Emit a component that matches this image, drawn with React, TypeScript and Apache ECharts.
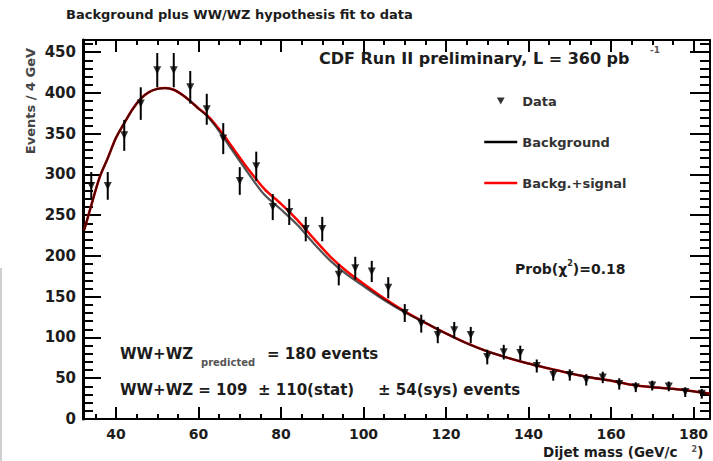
import React, { useEffect, useRef } from "react";
import * as echarts from "echarts";

// ---- Data ----
const dataMass = [34, 38, 42, 46, 50, 54, 58, 62, 66, 70, 74, 78, 82, 86, 90, 94, 98, 102, 106, 110, 114, 118, 122, 126, 130, 134, 138, 142, 146, 150, 154, 158, 162, 166, 170, 174, 178, 182];
const dataEvents = [286, 286, 348, 387, 428, 428, 407, 380, 344, 292, 310, 260, 254, 233, 233, 177, 185, 181, 161, 130, 117, 103, 109, 103, 76, 82, 81, 65, 54, 54, 48, 51, 43, 39, 41, 40, 33, 31];
const dataErrors = [17, 17, 19, 20, 21, 21, 20, 19, 19, 17, 18, 16, 16, 15, 15, 13, 14, 13, 13, 11, 11, 10, 10, 10, 9, 9, 9, 8, 7, 7, 7, 7, 7, 6, 6, 6, 6, 6];

const curveMass = [32.3, 34, 36, 38, 40, 42, 44, 46, 48, 50, 52, 54, 56, 58, 60, 62, 64, 66, 68, 72, 76, 80, 84, 88, 92, 96, 100, 105, 110, 115, 120, 125, 130, 135, 140, 145, 150, 155, 160, 165, 170, 175, 180, 184];
const backgroundFit = [232, 262, 296, 320, 345, 363, 380, 393, 401, 405, 406, 404, 398, 390, 381, 372, 360, 346, 331, 302, 275, 257, 238, 215, 194, 177, 163, 146, 131, 118, 105, 93, 83, 75, 68, 62, 56, 51, 47, 42, 39, 37, 34, 31];
const signalFit = [232, 262, 296, 320, 345, 363, 380, 393, 401, 405, 406, 404, 398, 390, 381, 373, 362, 349, 335, 307, 282, 264, 244, 221, 199, 181, 166, 148, 132, 118, 105, 93, 83, 75, 68, 62, 56, 51, 47, 42, 39, 37, 34, 31];

const xMajorTicks = [40, 60, 80, 100, 120, 140, 160, 180];
const xMinorTicks = [35, 45, 50, 55, 65, 70, 75, 85, 90, 95, 105, 110, 115, 125, 130, 135, 145, 150, 155, 165, 170, 175];
const yMajorTicks = [0, 50, 100, 150, 200, 250, 300, 350, 400, 450];
const yMinorTicks = [10, 20, 30, 40, 60, 70, 80, 90, 110, 120, 130, 140, 160, 170, 180, 190, 210, 220, 230, 240, 260, 270, 280, 290, 310, 320, 330, 340, 360, 370, 380, 390, 410, 420, 430, 440, 460];

const X_MIN = 32;
const X_MAX = 184;
const Y_MIN = 0;
const Y_MAX = 465;

const FONT = "DejaVu Sans";
const TXT = "#1c1c1c";

function makeAxis(
  kind: "x" | "y",
  position: string,
  ticks: number[],
  tickLen: number,
  showLine: boolean,
  lineWidth: number,
  labels: boolean
) {
  return {
    type: "value",
    position,
    min: kind === "x" ? X_MIN : Y_MIN,
    max: kind === "x" ? X_MAX : Y_MAX,
    splitLine: { show: false },
    axisLine: { show: showLine, onZero: false, lineStyle: { color: "#000", width: lineWidth } },
    axisTick: {
      show: true,
      inside: true,
      length: tickLen,
      customValues: ticks,
      lineStyle: { color: "#000", width: 2 },
    },
    axisLabel: labels
      ? {
          show: true,
          customValues: ticks,
          margin: kind === "x" ? 7 : 7,
          color: TXT,
          fontFamily: FONT,
          fontWeight: "bold",
          fontSize: kind === "x" ? 14 : 15,
          lineHeight: kind === "x" ? 15 : 18,
        }
      : { show: false },
  };
}

export default function App() {
  const ref = useRef<HTMLDivElement>(null);

  useEffect(() => {
    if (!ref.current) return;
    const chart = echarts.init(ref.current, undefined, { renderer: "svg" });

    const errorData = dataMass.map((m, i) => [m, dataEvents[i] - dataErrors[i], dataEvents[i] + dataErrors[i]]);
    const points = dataMass.map((m, i) => [m, dataEvents[i]]);

    const option: any = {
      animation: false,
      backgroundColor: "#fff",
      grid: { left: 83, right: 3, top: 40, bottom: 42, containLabel: false },
      xAxis: [
        makeAxis("x", "bottom", xMajorTicks, 12, true, 2, true),
        makeAxis("x", "bottom", xMinorTicks, 5, false, 2, false),
        makeAxis("x", "top", xMajorTicks, 12, true, 2, false),
        makeAxis("x", "top", xMinorTicks, 5, false, 2, false),
      ],
      yAxis: [
        makeAxis("y", "left", yMajorTicks, 18, true, 3, true),
        makeAxis("y", "left", yMinorTicks, 10, false, 2, false),
        makeAxis("y", "right", yMajorTicks, 20, true, 2, false),
        makeAxis("y", "right", yMinorTicks, 10, false, 2, false),
      ],
      legend: {
        show: true,
        orient: "vertical",
        left: 478,
        top: 88,
        itemWidth: 33,
        itemHeight: 7,
        itemGap: 25,
        textStyle: { fontFamily: FONT, fontWeight: "bold", fontSize: 13, color: "#333", lineHeight: 16 },
        data: [
          { name: "Data", icon: "path://M0,0L10,0L5,9Z", itemStyle: { color: "#000" } },
          {
            name: "Background",
            itemStyle: { opacity: 0 },
            lineStyle: { color: "#000", opacity: 1, width: 2.5 },
          },
          {
            name: "Backg.+signal",
            itemStyle: { opacity: 0 },
            lineStyle: { color: "#f00", opacity: 1, width: 2.5 },
          },
        ],
      },
      series: [
        {
          name: "Backg.+signal",
          type: "line",
          xAxisIndex: 0,
          yAxisIndex: 0,
          data: curveMass.map((m, i) => [m, signalFit[i]]),
          smooth: 0.3,
          symbol: "none",
          lineStyle: { color: "#f00", width: 2.5 },
          itemStyle: { color: "#f00" },
          z: 2,
        },
        {
          name: "Background",
          type: "line",
          xAxisIndex: 0,
          yAxisIndex: 0,
          data: curveMass.map((m, i) => [m, backgroundFit[i]]),
          smooth: 0.3,
          symbol: "none",
          lineStyle: { color: "#000", width: 2.2, opacity: 0.68 },
          itemStyle: { color: "#000" },
          z: 3,
        },
        {
          name: "errors",
          type: "custom",
          xAxisIndex: 0,
          yAxisIndex: 0,
          data: errorData,
          encode: { x: 0, y: [1, 2] },
          renderItem: (_params: any, api: any) => {
            const x = api.value(0);
            const p1 = api.coord([x, api.value(1)]);
            const p2 = api.coord([x, api.value(2)]);
            return {
              type: "line",
              shape: { x1: p1[0], y1: p1[1], x2: p2[0], y2: p2[1] },
              style: { stroke: "#000", lineWidth: 2 },
            };
          },
          z: 4,
        },
        {
          name: "Data",
          type: "scatter",
          xAxisIndex: 0,
          yAxisIndex: 0,
          data: points,
          symbol: "triangle",
          symbolRotate: 180,
          symbolSize: 8,
          itemStyle: { color: "#000" },
          z: 5,
        },
      ],
      graphic: [
        {
          type: "rect",
          shape: { x: 0, y: 268, width: 2, height: 193 },
          style: { fill: "#cfcfcf" },
          silent: true,
        },
        {
          type: "text",
          x: 66,
          y: 14,
          style: {
            text: "Background plus WW/WZ hypothesis fit to data",
            font: `bold 13px '${FONT}'`,
            fill: TXT,
            verticalAlign: "middle",
          },
        },
        {
          type: "text",
          x: 319,
          y: 58,
          style: {
            text: "CDF Run II preliminary, L = 360 pb",
            font: `bold 16px '${FONT}'`,
            fill: TXT,
            verticalAlign: "middle",
          },
        },
        {
          type: "text",
          x: 650,
          y: 50,
          style: { text: "-1", font: `bold 9px '${FONT}'`, fill: "#555", verticalAlign: "middle" },
        },
        {
          type: "text",
          x: 30,
          y: 101,
          rotation: Math.PI / 2,
          style: {
            text: "Events / 4 GeV",
            font: `bold 13px '${FONT}'`,
            fill: "#444",
            align: "center",
            verticalAlign: "middle",
          },
        },
        {
          type: "text",
          x: 515,
          y: 269,
          style: {
            text: "{a|Prob(χ}{s|2}{a|)=0.18}",
            fill: TXT,
            verticalAlign: "middle",
            rich: {
              a: { font: `bold 14px '${FONT}'`, fill: TXT, lineHeight: 20 },
              s: { font: `bold 8px '${FONT}'`, fill: TXT, verticalAlign: "top", lineHeight: 10 },
            },
          },
        },
        {
          type: "text",
          x: 120,
          y: 354,
          style: { text: "WW+WZ", font: `bold 15px '${FONT}'`, fill: TXT, verticalAlign: "middle" },
        },
        {
          type: "text",
          x: 201,
          y: 362,
          style: { text: "predicted", font: `bold 10px '${FONT}'`, fill: "#555", verticalAlign: "middle" },
        },
        {
          type: "text",
          x: 267,
          y: 354,
          style: { text: "= 180 events", font: `bold 15px '${FONT}'`, fill: TXT, verticalAlign: "middle" },
        },
        {
          type: "text",
          x: 120,
          y: 390,
          style: { text: "WW+WZ = 109", font: `bold 15px '${FONT}'`, fill: TXT, verticalAlign: "middle" },
        },
        {
          type: "text",
          x: 258,
          y: 390,
          style: { text: "± 110(stat)", font: `bold 15px '${FONT}'`, fill: TXT, verticalAlign: "middle" },
        },
        {
          type: "text",
          x: 378,
          y: 390,
          style: { text: "± 54(sys) events", font: `bold 15px '${FONT}'`, fill: TXT, verticalAlign: "middle" },
        },
        {
          type: "text",
          x: 543,
          y: 452,
          style: {
            text: "{n|Dijet mass (GeV/c   }{s|2}{n|)}",
            verticalAlign: "middle",
            rich: {
              n: { font: `bold 13.5px '${FONT}'`, fill: TXT, lineHeight: 14 },
              s: { font: `bold 8px '${FONT}'`, fill: "#555", verticalAlign: "top", lineHeight: 9 },
            },
          },
        },
      ],
    };

    chart.setOption(option);
    return () => chart.dispose();
  }, []);

  return <div ref={ref} style={{ position: "absolute", left: 0, top: 0, width: 713, height: 461 }} />;
}
